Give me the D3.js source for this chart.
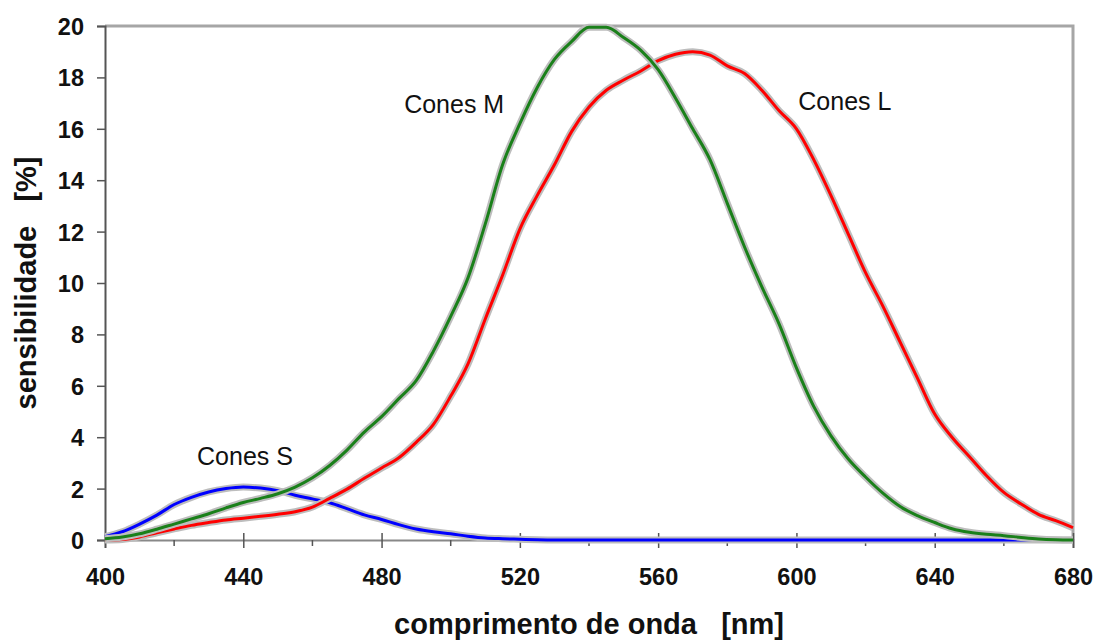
<!DOCTYPE html>
<html>
<head>
<meta charset="utf-8">
<script src="https://cdn.jsdelivr.net/npm/d3@7"></script>
<style>
  html, body { margin: 0; padding: 0; background: #fff; }
  svg { display: block; font-family: "Liberation Sans", Arial, sans-serif; }
  .tick-label { font-weight: bold; font-size: 23.5px; fill: #111; }
  .axis-title { font-weight: bold; font-size: 29px; fill: #111; }
  .cone-label { font-size: 25px; fill: #111; }
</style>
</head>
<body>
<div id="chart"></div>
<script>
// Wavelength grid (nm) and sensitivity readings (%) for each cone type
const wavelengths = [400,405,410,415,420,425,430,435,440,445,450,455,460,465,470,475,480,485,490,495,
  500,505,510,515,520,525,530,535,540,545,550,555,560,565,570,575,580,585,590,595,
  600,605,610,615,620,625,630,635,640,645,650,655,660,665,670,675,680];

const conesS = [0.13,0.32,0.62,0.97,1.38,1.66,1.87,2.0,2.06,2.02,1.92,1.74,1.6,1.45,1.22,0.98,0.8,0.6,0.43,0.32,
  0.24,0.15,0.08,0.05,0.03,0.01,0,0,0,0,0,0,0,0,0,0,0,0,0,0,
  0,0,0,0,0,0,0,0,0,0,0,0,0,0,0,0,0];

const conesM = [0.05,0.12,0.24,0.42,0.62,0.82,1.02,1.25,1.46,1.62,1.8,2.06,2.42,2.9,3.5,4.2,4.8,5.5,6.2,7.35,
  8.7,10.2,12.3,14.6,16.2,17.6,18.7,19.4,19.95,19.95,19.55,19.05,18.3,17.2,16.0,14.8,13.1,11.4,9.85,8.4,
  6.7,5.2,4.05,3.15,2.45,1.82,1.3,0.95,0.68,0.44,0.3,0.22,0.17,0.1,0.04,0.01,0];

const conesL = [0,0.02,0.12,0.28,0.43,0.57,0.68,0.78,0.85,0.92,1.0,1.1,1.28,1.62,1.98,2.4,2.8,3.2,3.8,4.5,
  5.6,6.85,8.6,10.3,12.1,13.4,14.6,15.9,16.85,17.5,17.9,18.25,18.65,18.9,19.0,18.87,18.45,18.15,17.5,16.7,
  16.0,14.8,13.4,11.9,10.4,9.1,7.7,6.3,4.9,4.0,3.25,2.5,1.85,1.4,1.0,0.75,0.48];

const xTicks = [400,440,480,520,560,600,640,680];
const xMinorTicks = [420,460,500,540,580,620,660];
const yTicks = [0,2,4,6,8,10,12,14,16,18,20];

const seriesNames = ['Cones S', 'Cones L', 'Cones M'];
const seriesColors = ['#0000ff', '#ff0000', '#1a801a'];
// label centre (nm) and baseline (%)
const labelAnchors = [[440.5, 2.9], [614, 16.75], [501, 16.6]];

const width = 1095, height = 641;
const margin = { top: 26, right: 22, bottom: 101, left: 105 };

const svg = d3.select('#chart').append('svg')
  .attr('width', width)
  .attr('height', height);

const x = d3.scaleLinear().domain([400, 680]).range([margin.left, width - margin.right]);
const y = d3.scaleLinear().domain([0, 20]).range([height - margin.bottom, margin.top]);

// Frame: grey top / right borders
svg.append('path')
  .attr('d', `M${x(400)},${y(20)}H${x(680)}V${y(0)}`)
  .attr('fill', 'none')
  .attr('stroke', '#a6a6a6')
  .attr('stroke-width', 3);

// Y axis
const yAxis = svg.append('g')
  .attr('transform', `translate(${x(400)},0)`)
  .call(d3.axisLeft(y).tickValues(yTicks).tickSize(8).tickPadding(13));
yAxis.select('.domain').attr('stroke', '#555').attr('stroke-width', 2);
yAxis.selectAll('.tick line').attr('stroke', '#555').attr('stroke-width', 1.5);
yAxis.selectAll('.tick text').attr('class', 'tick-label').attr('font-family', null).attr('font-size', null)
  .attr('dy', '0.36em');

// X axis: major ticks cross the axis, minor ticks below
const xAxis = svg.append('g')
  .attr('transform', `translate(0,${y(0)})`)
  .call(d3.axisBottom(x).tickValues(xTicks).tickSize(8).tickPadding(20));
xAxis.select('.domain').attr('stroke', '#888').attr('stroke-width', 2);
xAxis.selectAll('.tick line').attr('stroke', '#555').attr('stroke-width', 1.5).attr('y1', -7);
xAxis.selectAll('.tick text').attr('class', 'tick-label').attr('font-family', null).attr('font-size', null);

svg.append('g').selectAll('line')
  .data(xMinorTicks)
  .join('line')
  .attr('x1', d => x(d)).attr('x2', d => x(d))
  .attr('y1', y(0)).attr('y2', y(0) + 6)
  .attr('stroke', '#555').attr('stroke-width', 1.5);

// Curves with grey halo
const line = d3.line()
  .x((d, i) => x(wavelengths[i]))
  .y(d => y(d))
  .curve(d3.curveMonotoneX);

[conesS, conesL, conesM].forEach((values, i) => {
  const g = svg.append('g');
  g.append('path')
    .attr('d', line(values))
    .attr('fill', 'none')
    .attr('stroke', '#bdbdbd')
    .attr('stroke-width', 7)
    .attr('stroke-linejoin', 'round');
  g.append('path')
    .attr('d', line(values))
    .attr('fill', 'none')
    .attr('stroke', seriesColors[i])
    .attr('stroke-width', 3)
    .attr('stroke-linejoin', 'round');
});

// Curve labels
svg.append('g').selectAll('text')
  .data(seriesNames)
  .join('text')
  .attr('class', 'cone-label')
  .attr('x', (d, i) => x(labelAnchors[i][0]))
  .attr('y', (d, i) => y(labelAnchors[i][1]))
  .attr('text-anchor', 'middle')
  .text(d => d);

// Axis titles
svg.append('text')
  .attr('class', 'axis-title')
  .attr('x', (x(400) + x(680)) / 2)
  .attr('y', 634)
  .attr('text-anchor', 'middle')
  .style('white-space', 'pre')
  .text('comprimento de onda   [nm]');

svg.append('text')
  .attr('class', 'axis-title')
  .attr('transform', `translate(36,${(y(0) + y(20)) / 2}) rotate(-90)`)
  .attr('text-anchor', 'middle')
  .style('white-space', 'pre')
  .text('sensibilidade   [%]');
</script>
</body>
</html>
